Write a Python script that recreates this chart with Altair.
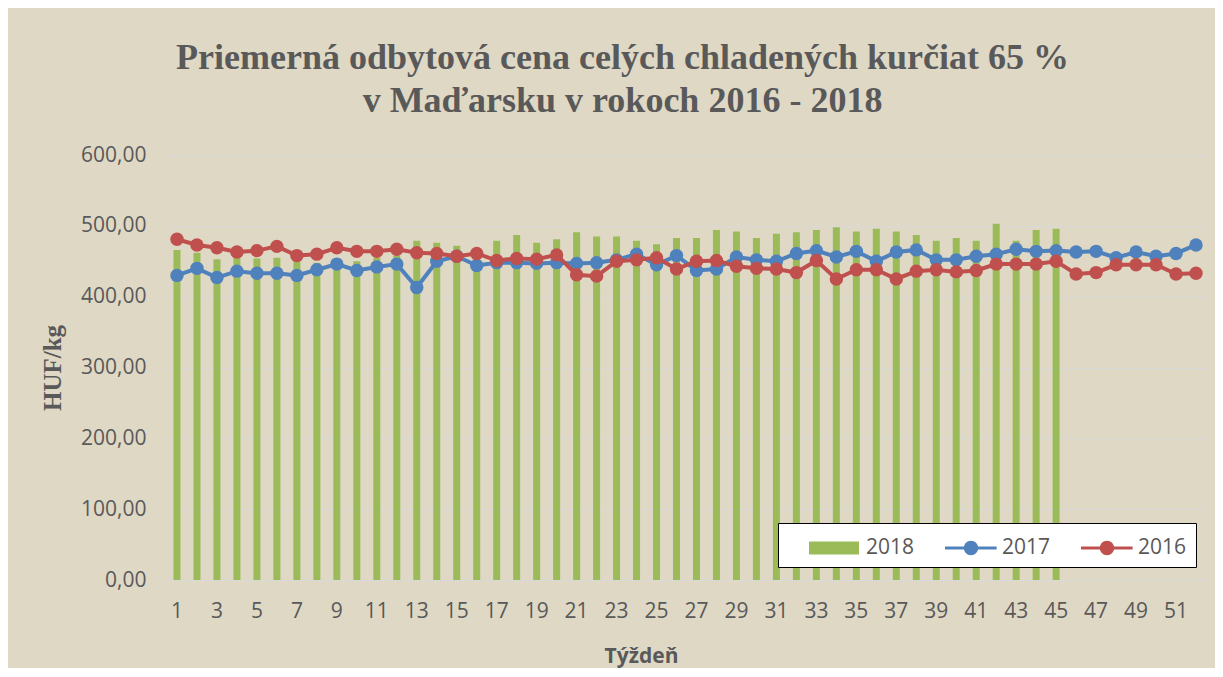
import altair as alt
import pandas as pd

weeks = list(range(1, 53))
weeks_2018 = list(range(1, 46))
v2018 = [466, 462, 453, 457, 454, 455, 450, 448, 452, 450, 455, 458, 479, 476, 472,
         466, 479, 487, 476, 481, 491, 485, 485, 479, 474, 483, 483, 494, 492, 483,
         489, 491, 494, 498, 492, 496, 492, 487, 479, 483, 479, 503, 479, 494, 496]
v2017 = [430, 440, 427, 436, 433, 433, 430, 438, 446, 437, 442, 446, 413, 450, 457,
         444, 448, 448, 447, 448, 447, 448, 452, 460, 445, 458, 437, 439, 456, 452,
         450, 461, 465, 456, 464, 450, 463, 466, 452, 452, 457, 460, 467, 464, 465,
         463, 464, 455, 463, 457, 461, 473]
v2016 = [481, 473, 469, 463, 465, 471, 458, 460, 469, 464, 464, 467, 462, 461, 457,
         461, 451, 454, 453, 459, 431, 429, 450, 452, 455, 439, 450, 451, 443, 440,
         439, 434, 451, 425, 438, 438, 425, 436, 438, 435, 437, 446, 446, 446, 450,
         432, 434, 445, 445, 445, 432, 433]
series_names = ["2018", "2017", "2016"]
series_colors = ["#9bbb59", "#4f81bd", "#c0504d"]
x_tick_values = list(range(1, 53, 2))
y_tick_values = [0, 100, 200, 300, 400, 500, 600]
title_lines = ["Priemerná odbytová cena celých chladených kurčiat 65 %",
               "v Maďarsku v rokoch 2016 - 2018"]

bars_df = pd.DataFrame({"week": weeks_2018, "value": v2018, "series": "2018"})
lines_df = pd.concat([
    pd.DataFrame({"week": weeks, "value": v2017, "series": "2017"}),
    pd.DataFrame({"week": weeks, "value": v2016, "series": "2016"}),
], ignore_index=True)

TEXT = "#595959"
LABEL_FONT = "Open Sans"

x_enc = alt.X(
    "week:O",
    scale=alt.Scale(paddingInner=0, paddingOuter=0),
    axis=alt.Axis(values=x_tick_values, labelAngle=0, ticks=False, grid=False,
                  domain=True, domainColor="#d9d9d9", domainWidth=1,
                  labelFont=LABEL_FONT, labelFontSize=21, labelColor=TEXT,
                  labelPadding=20,
                  title="Týždeň", titleFont=LABEL_FONT, titleFontSize=21,
                  titleFontWeight="bold", titleColor=TEXT,
                  titleX=474, titleY=82, titleBaseline="alphabetic"),
)
y_enc = alt.Y(
    "value:Q",
    scale=alt.Scale(domain=[0, 600], nice=False),
    axis=alt.Axis(values=y_tick_values,
                  labelExpr="replace(format(datum.value, '.2f'), '.', ',')",
                  ticks=False, domain=False, grid=True, gridColor="#d9d9d9",
                  labelFont=LABEL_FONT, labelFontSize=21, labelColor=TEXT,
                  labelPadding=21,
                  title="HUF/kg", titleFont="Liberation Serif", titleFontSize=25,
                  titleFontWeight="bold", titleColor=TEXT,
                  titleX=-115, titleBaseline="middle"),
)

bars = alt.Chart(bars_df).mark_bar(color=series_colors[0], size=7).encode(
    x=x_enc, y=y_enc
)

def line_layer(name, color):
    return alt.Chart(lines_df).transform_filter(
        alt.datum.series == name
    ).mark_line(
        color=color, strokeWidth=4,
        point=alt.OverlayMarkDef(filled=True, size=180, color=color, opacity=1),
    ).encode(x=x_enc, y=y_enc)

line17 = line_layer("2017", series_colors[1])
line16 = line_layer("2016", series_colors[2])

rect_path = "M0.375,-0.4 H3.5 V0.4 H0.375 Z"
line_path = ("M0.375,-0.1 H3.6 V0.1 H0.375 Z "
             "M1.55,0 A0.45,0.45 0 1,1 2.45,0 A0.45,0.45 0 1,1 1.55,0 Z")

legend_props = dict(
    orient="none", legendX=611, legendY=368, direction="horizontal", title=None,
    symbolSize=1024, labelOffset=47, columnPadding=8, padding=9,
    strokeColor="black", fillColor="white", labelFont=LABEL_FONT,
    labelFontSize=21, labelColor=TEXT, symbolStrokeWidth=0, symbolOpacity=1,
)

legend_layer = alt.Chart(lines_df).transform_filter("false").mark_point(
    filled=True, opacity=1
).encode(
    color=alt.Color("series:N",
                    scale=alt.Scale(domain=series_names, range=series_colors),
                    legend=alt.Legend(**legend_props)),
    shape=alt.Shape("series:N",
                    scale=alt.Scale(domain=series_names,
                                    range=[rect_path, line_path, line_path]),
                    legend=alt.Legend(**legend_props)),
)

chart = alt.layer(bars, line17, line16, legend_layer).properties(
    width=1039, height=425,
    padding={"left": 159, "top": 147, "right": 9, "bottom": 88},
    autosize=alt.AutoSizeParams(type="none"),
    background="#dfd8c5",
    title=alt.TitleParams(
        text=title_lines, font="Liberation Serif", fontSize=36,
        fontWeight="bold", color=TEXT, anchor="middle", dx=-64, dy=47,
        offset=35, lineHeight=43, baseline="bottom",
    ),
).configure_view(fill="white", stroke=None)

chart.save("out.html", embed_options={"renderer": "svg", "actions": False})
